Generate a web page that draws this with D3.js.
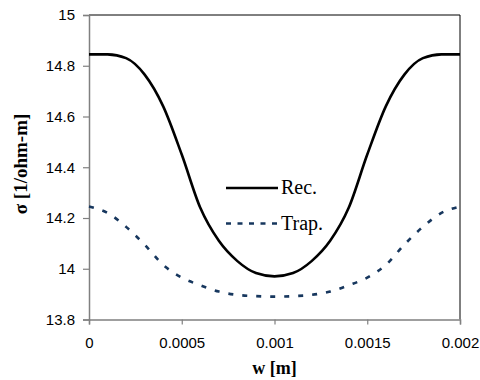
<!DOCTYPE html>
<html>
<head>
<meta charset="utf-8">
<script src="https://cdn.jsdelivr.net/npm/d3@7"></script>
<style>
  body { margin: 0; background: #fff; }
  svg { display: block; }
</style>
</head>
<body>
<div id="app"></div>
<script>
// data
const wValues = [0, 0.0001, 0.0002, 0.0003, 0.0004, 0.0005, 0.0006, 0.0007, 0.0008, 0.0009, 0.001,
  0.0011, 0.0012, 0.0013, 0.0014, 0.0015, 0.0016, 0.0017, 0.0018, 0.0019, 0.002]
const recValues = [14.845, 14.845, 14.83, 14.765, 14.64, 14.45, 14.24, 14.11, 14.03, 13.983, 13.97,
  13.983, 14.03, 14.11, 14.24, 14.45, 14.64, 14.765, 14.83, 14.845, 14.845]
const trapValues = [14.245, 14.22, 14.165, 14.095, 14.015, 13.965, 13.935, 13.91, 13.897, 13.892, 13.89,
  13.892, 13.897, 13.91, 13.935, 13.965, 14.015, 14.095, 14.165, 14.22, 14.245]
const seriesNames = ['Rec.', 'Trap.']
const xTicks = [0, 0.0005, 0.001, 0.0015, 0.002]
const xTickLabels = ['0', '0.0005', '0.001', '0.0015', '0.002']
const yTicks = [13.8, 14, 14.2, 14.4, 14.6, 14.8, 15]
const yTickLabels = ['13.8', '14', '14.2', '14.4', '14.6', '14.8', '15']

const width = 480
const height = 380
const plot = { left: 89, right: 460, top: 15, bottom: 319.5 }

const svg = d3.select('#app')
  .append('svg')
  .attr('width', width)
  .attr('height', height)

const x = d3.scaleLinear().domain([0, 0.002]).range([plot.left, plot.right])
const y = d3.scaleLinear().domain([13.8, 15]).range([plot.bottom, plot.top])

// top / right frame
svg.append('path')
  .attr('d', `M${plot.left},${plot.top}H${plot.right}V${plot.bottom}`)
  .attr('fill', 'none')
  .attr('stroke', '#000')
  .attr('stroke-width', 1)

const axisFont = 'Liberation Sans, Arial, sans-serif'
const serif = 'Liberation Serif, Times New Roman, serif'

// y axis
const yAxis = d3.axisLeft(y)
  .tickValues(yTicks)
  .tickFormat((d, i) => yTickLabels[i])
  .tickSizeOuter(0)
  .tickSize(6)
  .tickPadding(8)
const gy = svg.append('g')
  .attr('transform', `translate(${plot.left},0)`)
  .call(yAxis)
gy.select('.domain').attr('stroke', '#808080').attr('stroke-width', 1.5)
gy.selectAll('.tick line').attr('stroke', '#808080').attr('stroke-width', 1.2)
gy.selectAll('.tick text')
  .attr('font-family', axisFont)
  .attr('font-size', 15)
  .attr('fill', '#000')

// x axis
const xAxis = d3.axisBottom(x)
  .tickValues(xTicks)
  .tickFormat((d, i) => xTickLabels[i])
  .tickSizeOuter(0)
  .tickSize(5)
  .tickPadding(13)
const gx = svg.append('g')
  .attr('transform', `translate(0,${plot.bottom})`)
  .call(xAxis)
gx.select('.domain').attr('stroke', '#808080').attr('stroke-width', 1.5)
gx.selectAll('.tick line').attr('stroke', '#808080').attr('stroke-width', 1.2)
gx.selectAll('.tick text')
  .attr('font-family', axisFont)
  .attr('font-size', 15)
  .attr('fill', '#000')

// axis titles
svg.append('text')
  .attr('x', (plot.left + plot.right) / 2)
  .attr('y', 374)
  .attr('text-anchor', 'middle')
  .attr('font-family', serif)
  .attr('font-weight', 'bold')
  .attr('font-size', 18)
  .text('w [m]')

svg.append('text')
  .attr('transform', 'translate(27,164) rotate(-90)')
  .attr('text-anchor', 'middle')
  .attr('font-family', serif)
  .attr('font-weight', 'bold')
  .attr('font-size', 19)
  .text('σ [1/ohm-m]')

// lines
const line = d3.line()
  .x((d, i) => x(wValues[i]))
  .y(d => y(d))
  .curve(d3.curveMonotoneX)

const styles = [
  { color: '#000', dash: null, legendDash: null },
  { color: '#17375e', dash: '5,9', legendDash: '5,6.5' },
]

;[recValues, trapValues].forEach((vals, k) => {
  svg.append('path')
    .datum(vals)
    .attr('d', line)
    .attr('fill', 'none')
    .attr('stroke', styles[k].color)
    .attr('stroke-width', 2.6)
    .attr('stroke-dasharray', styles[k].dash)
})

// legend
const legend = svg.append('g').attr('transform', 'translate(226,188)')
seriesNames.forEach((name, k) => {
  const row = legend.append('g').attr('transform', `translate(0,${k * 35.5})`)
  row.append('line')
    .attr('x1', 0).attr('x2', 52)
    .attr('stroke', styles[k].color)
    .attr('stroke-width', 2.6)
    .attr('stroke-dasharray', styles[k].legendDash)
  row.append('text')
    .attr('x', 55)
    .attr('y', 6)
    .attr('font-family', serif)
    .attr('font-size', 20)
    .text(name)
})
</script>
</body>
</html>
